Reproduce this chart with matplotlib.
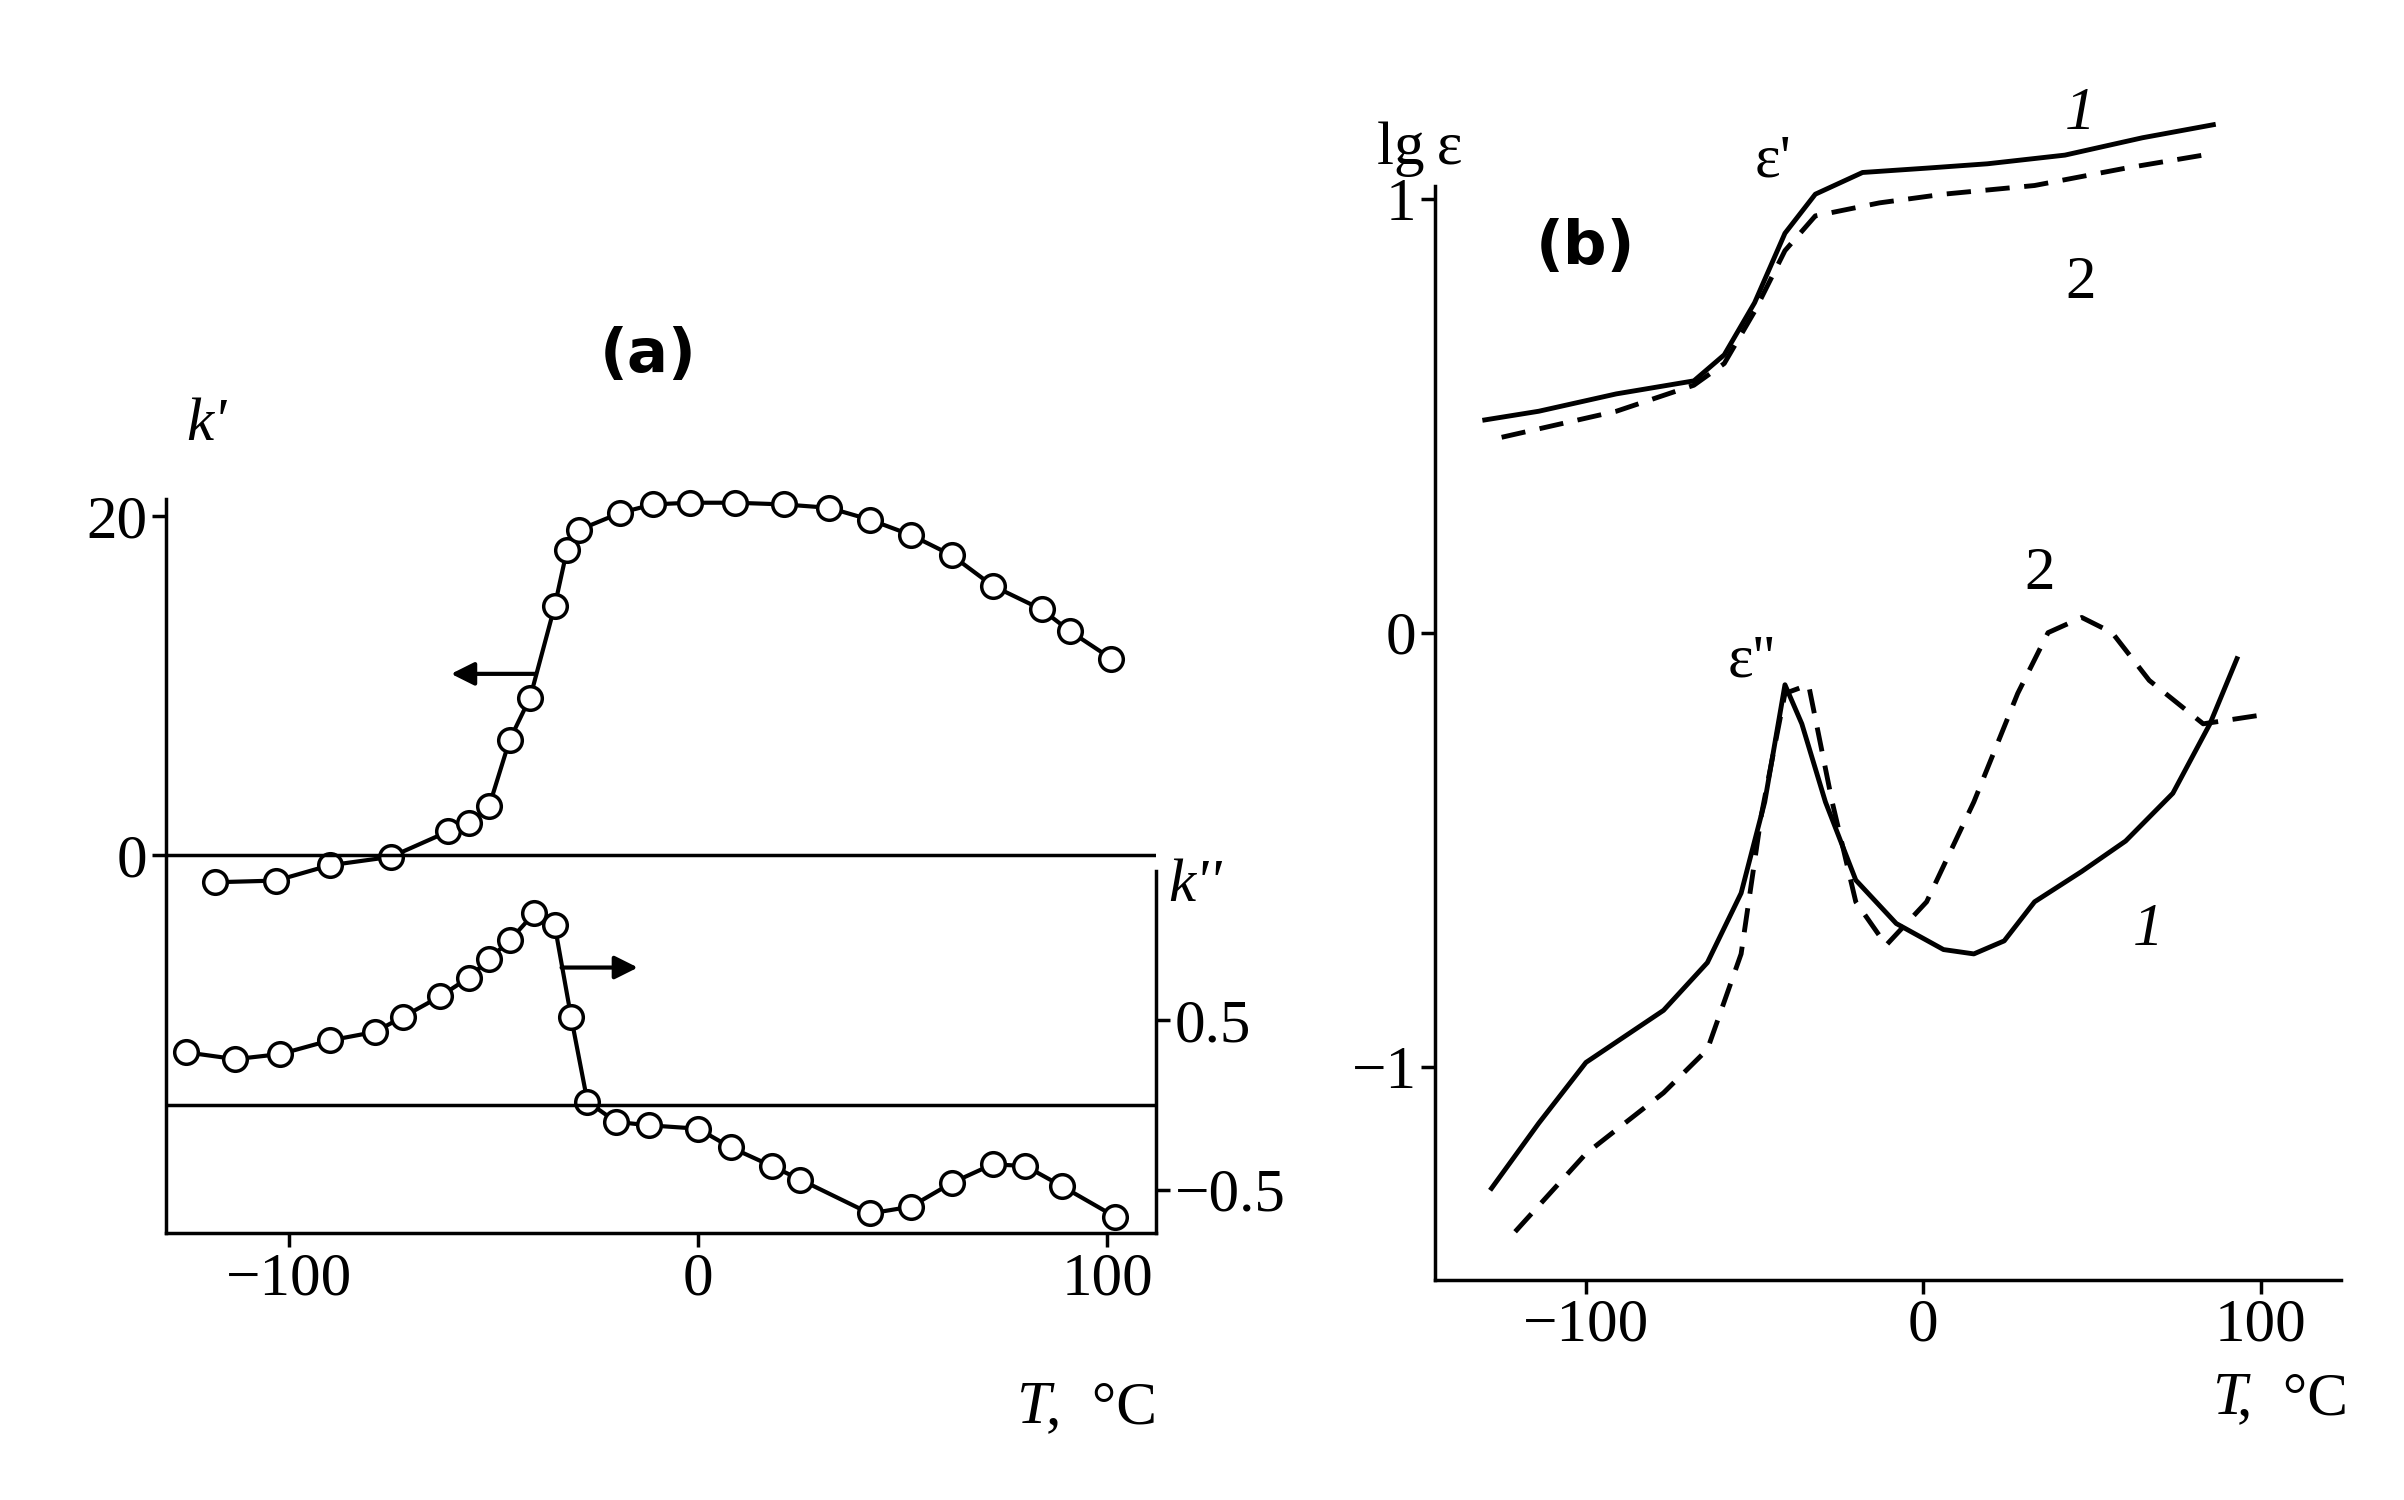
import matplotlib.pyplot as plt
import numpy as np

plt.rcParams['font.family'] = ['Liberation Serif', 'DejaVu Serif']

# panel (a): k' (left axis) and k'' (right axis) vs temperature
ka_T = [-118, -103, -90, -75, -61, -56, -51, -46, -41, -35, -32, -29, -19, -11, -2, 9, 21, 32, 42, 52, 62, 72, 84, 91, 101]
ka_val = [-1.6, -1.5, -0.6, -0.1, 1.4, 1.9, 2.9, 6.8, 9.3, 14.7, 18.0, 19.2, 20.2, 20.7, 20.8, 20.8, 20.7, 20.5, 19.8, 18.9, 17.7, 15.9, 14.5, 13.2, 11.6]
kb_T = [-125, -113, -102, -90, -79, -72, -63, -56, -51, -46, -40, -35, -31, -27, -20, -12, 0, 8, 18, 25, 42, 52, 62, 72, 80, 89, 102]
kb_val = [0.31, 0.27, 0.30, 0.38, 0.43, 0.52, 0.64, 0.75, 0.86, 0.97, 1.13, 1.06, 0.52, 0.02, -0.10, -0.12, -0.14, -0.25, -0.36, -0.44, -0.64, -0.60, -0.46, -0.35, -0.36, -0.48, -0.66]

# panel (b): lg eps' and lg eps'' for samples 1 and 2
e1_T = [-130, -114, -91, -68, -59, -50, -41, -32, -18, 1, 19, 42, 65, 86]
e1_val = [0.49, 0.51, 0.55, 0.58, 0.64, 0.76, 0.92, 1.01, 1.06, 1.07, 1.08, 1.10, 1.14, 1.17]
e2_T = [-125, -91, -68, -59, -50, -41, -32, -13, 6, 33, 60, 83]
e2_val = [0.45, 0.51, 0.57, 0.62, 0.74, 0.88, 0.96, 0.99, 1.01, 1.03, 1.07, 1.10]
ee1_T = [-128, -114, -100, -77, -64, -54, -47, -41, -36, -29, -20, -8, 6, 15, 24, 33, 47, 60, 74, 85, 93]
ee1_val = [-1.28, -1.13, -0.99, -0.87, -0.76, -0.60, -0.39, -0.12, -0.21, -0.39, -0.57, -0.67, -0.73, -0.74, -0.71, -0.62, -0.55, -0.48, -0.37, -0.21, -0.06]
ee2_T = [-121, -100, -77, -64, -54, -48, -41, -34, -27, -20, -11, 1, 15, 28, 37, 47, 56, 67, 83, 100]
ee2_val = [-1.38, -1.20, -1.06, -0.96, -0.74, -0.42, -0.14, -0.12, -0.39, -0.62, -0.72, -0.62, -0.39, -0.14, 0.0, 0.035, 0.0, -0.11, -0.21, -0.19]

fs = 44
fig = plt.figure(figsize=(24.04, 15), dpi=100)

# ---- panel (a)
ax = fig.add_axes([0.069, 0.178, 0.412, 0.523])
ax.set_xlim(-130, 112)
ax.set_ylim(-22.3, 24)
ax.plot(ka_T, ka_val, color='black', lw=3, marker='o', ms=17, mfc='white', mew=2.5, clip_on=False)
ax.axhline(0, color='black', lw=2.5)
ax.spines['top'].set_visible(False)
ax.spines['right'].set_visible(False)
ax.spines['left'].set_bounds(-22.3, 21)
for s in ['left', 'bottom']:
    ax.spines[s].set_linewidth(2.5)
ax.set_yticks([0, 20])
ax.set_xticks([-100, 0, 100])
ax.set_xticklabels(['\u2212100', '0', '100'])
ax.tick_params(labelsize=fs, width=2.5, length=10)
ax.annotate('', xy=(-61, 10.7), xytext=(-39, 10.7),
            arrowprops=dict(arrowstyle='-|>', color='black', lw=3, mutation_scale=35))
ax.text(-125, 24.5, "k'", fontsize=fs, style='italic')
ax.text(-24, 28.5, '(a)', fontsize=fs, fontweight='bold', family='DejaVu Sans')
ax.text(78, -33.5, 'T', fontsize=fs, style='italic')
ax.text(85, -33.5, ',  °C', fontsize=fs)

ax2 = ax.twinx()
ax2.set_ylim(-0.755, 3.87)
ax2.plot(kb_T, kb_val, color='black', lw=3, marker='o', ms=17, mfc='white', mew=2.5, clip_on=False)
ax2.axhline(0, color='black', lw=2.5)
ax2.spines['top'].set_visible(False)
ax2.spines['left'].set_visible(False)
ax2.spines['bottom'].set_visible(False)
ax2.spines['right'].set_bounds(-0.755, 1.38)
ax2.spines['right'].set_linewidth(2.5)
ax2.set_yticks([0.5, -0.5])
ax2.set_yticklabels(['0.5', '\u22120.5'])
ax2.tick_params(labelsize=fs, width=2.5, length=10)
ax2.annotate('', xy=(-14, 0.81), xytext=(-34, 0.81),
             arrowprops=dict(arrowstyle='-|>', color='black', lw=3, mutation_scale=35))
ax2.text(115, 1.2, "k''", fontsize=fs, style='italic')

# ---- panel (b)
bx = fig.add_axes([0.597, 0.147, 0.377, 0.793])
bx.set_xlim(-144.7, 124)
bx.set_ylim(-1.49, 1.25)
bx.plot(e1_T, e1_val, color='black', lw=3.5)
bx.plot(e2_T, e2_val, color='black', lw=3.5, ls=(0, (5, 3)))
bx.plot(ee1_T, ee1_val, color='black', lw=3.5)
bx.plot(ee2_T, ee2_val, color='black', lw=3.5, ls=(0, (5, 3)))
bx.spines['top'].set_visible(False)
bx.spines['right'].set_visible(False)
bx.spines['left'].set_bounds(-1.49, 1.03)
for s in ['left', 'bottom']:
    bx.spines[s].set_linewidth(2.5)
bx.set_xticks([-100, 0, 100])
bx.set_xticklabels(['\u2212100', '0', '100'])
bx.set_yticks([1, 0, -1])
bx.set_yticklabels(['1', '0', '\u22121'])
bx.tick_params(labelsize=fs, width=2.5, length=10)
bx.text(-162, 1.08, 'lg\u2009ε', fontsize=fs)
bx.text(-50, 1.05, "ε'", fontsize=fs)
bx.text(-115, 0.85, '(b)', fontsize=fs, fontweight='bold', family='DejaVu Sans')
bx.text(42, 1.16, '1', fontsize=fs, style='italic')
bx.text(42, 0.77, '2', fontsize=fs)
bx.text(-58, -0.1, "ε''", fontsize=fs)
bx.text(30, 0.1, '2', fontsize=fs)
bx.text(62, -0.72, '1', fontsize=fs, style='italic')
bx.text(86, -1.8, 'T', fontsize=fs, style='italic')
bx.text(93, -1.8, ',  °C', fontsize=fs)

fig.savefig('out.png', dpi=100)
